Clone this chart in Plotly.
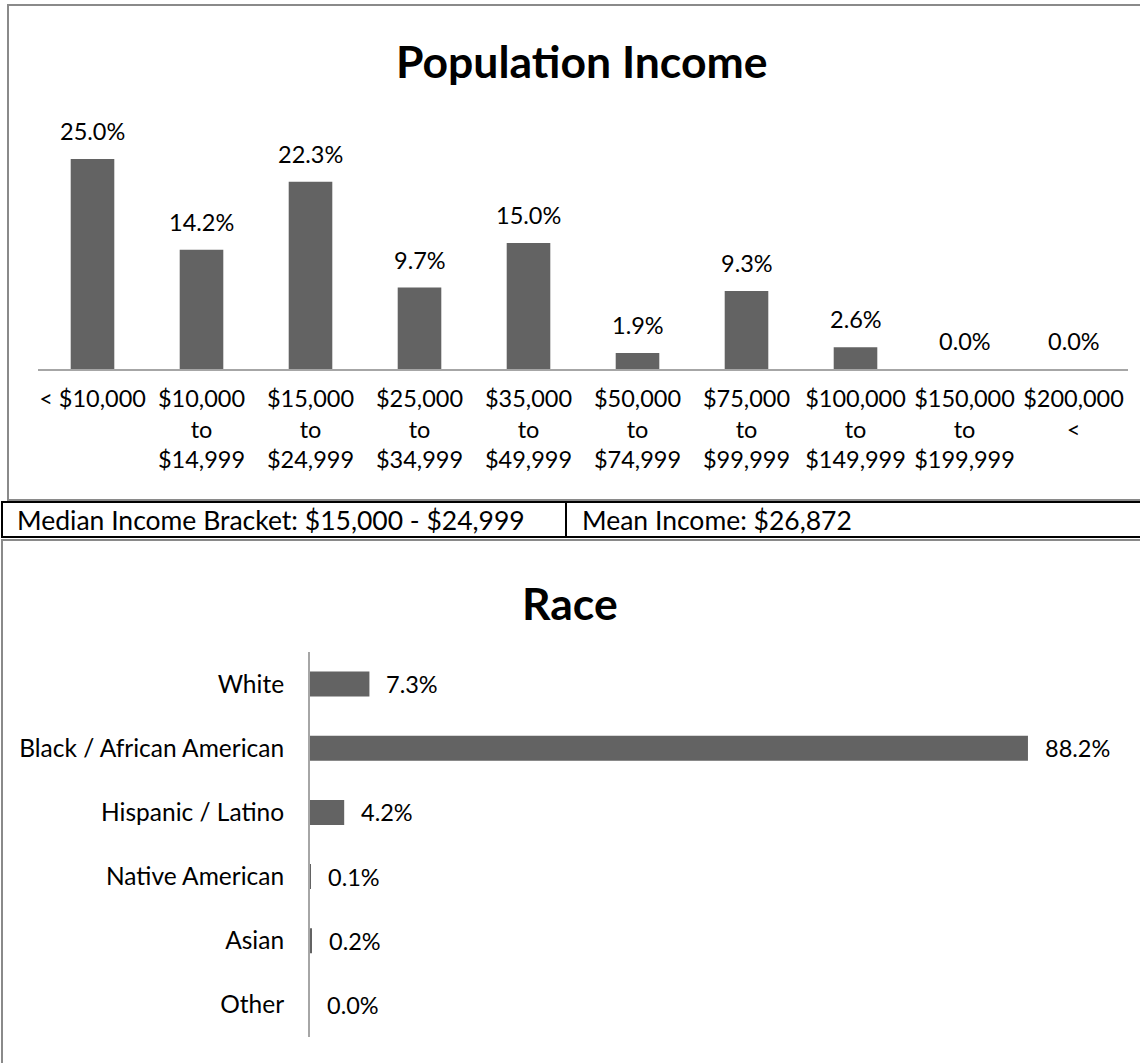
import plotly.graph_objects as go

# ---- data -------------------------------------------------------------
income_brackets = [
    "< $10,000",
    "$10,000<br>to<br>$14,999",
    "$15,000<br>to<br>$24,999",
    "$25,000<br>to<br>$34,999",
    "$35,000<br>to<br>$49,999",
    "$50,000<br>to<br>$74,999",
    "$75,000<br>to<br>$99,999",
    "$100,000<br>to<br>$149,999",
    "$150,000<br>to<br>$199,999",
    "$200,000<br><",
]
income_pct = [25.0, 14.2, 22.3, 9.7, 15.0, 1.9, 9.3, 2.6, 0.0, 0.0]

race_groups = [
    "White",
    "Black / African American",
    "Hispanic / Latino",
    "Native American",
    "Asian",
    "Other",
]
race_pct = [7.3, 88.2, 4.2, 0.1, 0.2, 0.0]

median_text = "Median Income Bracket: $15,000 - $24,999"
mean_text = "Mean Income: $26,872"

# ---- page geometry (pixels) -------------------------------------------
W, H = 1140, 1063
FONT = "Lato, 'Open Sans', sans-serif"
BAR = "#636363"
AXIS = "#A6A6A6"
FRAME = "#8A8A8A"


def px(x):
    return x / W


def py(y):
    return 1 - y / H


fig = go.Figure()

# income histogram
fig.add_trace(go.Bar(
    x=income_brackets, y=income_pct, marker=dict(color=BAR, line=dict(width=0)),
    xaxis="x", yaxis="y", hoverinfo="skip", showlegend=False,
))
# race bars
fig.add_trace(go.Bar(
    y=race_groups, x=race_pct, orientation="h", width=0.39,
    marker=dict(color=BAR, line=dict(width=0)),
    xaxis="x2", yaxis="y2", hoverinfo="skip", showlegend=False,
))

annotations = []
for cat, v in zip(income_brackets, income_pct):
    annotations.append(dict(
        x=cat, y=v, xref="x", yref="y", text=f"{v:.1f}%", showarrow=False,
        xanchor="center", yanchor="bottom", yshift=12,
        font=dict(family=FONT, size=23.5, color="black"),
    ))
for cat, v in zip(race_groups, race_pct):
    annotations.append(dict(
        x=v, y=cat, xref="x2", yref="y2", text=f"{v:.1f}%", showarrow=False,
        xanchor="left", yanchor="middle", xshift=15,
        font=dict(family=FONT, size=23.5, color="black"),
    ))

# chart titles
annotations.append(dict(
    x=px(582), y=py(60), xref="paper", yref="paper", text="<b>Population Income</b>",
    showarrow=False, xanchor="center", yanchor="middle",
    font=dict(family=FONT, size=44.5, color="black"),
))
annotations.append(dict(
    x=px(570), y=py(602), xref="paper", yref="paper", text="<b>Race</b>",
    showarrow=False, xanchor="center", yanchor="middle",
    font=dict(family=FONT, size=44.5, color="black"),
))

# summary row text
annotations.append(dict(
    x=px(15), y=py(520), xref="paper", yref="paper", text=median_text,
    showarrow=False, xanchor="left", yanchor="middle",
    font=dict(family=FONT, size=26.5, color="black"),
))
annotations.append(dict(
    x=px(580), y=py(520), xref="paper", yref="paper", text=mean_text,
    showarrow=False, xanchor="left", yanchor="middle",
    font=dict(family=FONT, size=26.5, color="black"),
))

shapes = [
    # frame around income chart
    dict(type="rect", xref="paper", yref="paper", x0=px(8), x1=px(1160),
         y0=py(500), y1=py(5), line=dict(color=FRAME, width=2)),
    # frame around race chart
    dict(type="rect", xref="paper", yref="paper", x0=px(2), x1=px(1160),
         y0=py(1090), y1=py(540), line=dict(color=FRAME, width=2)),
    # summary row box and divider
    dict(type="rect", xref="paper", yref="paper", x0=px(2), x1=px(1160),
         y0=py(537), y1=py(502), line=dict(color="black", width=2)),
    dict(type="line", xref="paper", yref="paper", x0=px(566), x1=px(566),
         y0=py(537), y1=py(502), line=dict(color="black", width=2)),
]

fig.update_layout(
    width=W, height=H, margin=dict(l=0, r=0, t=0, b=0),
    paper_bgcolor="white", plot_bgcolor="white",
    font=dict(family=FONT, size=23.5, color="black"),
    bargap=0.6,
    xaxis=dict(
        domain=[px(38), px(1128)], anchor="y", type="category",
        showline=True, linecolor=AXIS, linewidth=2, showgrid=False,
        ticks="", zeroline=False, ticklabelstandoff=8,
        tickfont=dict(family=FONT, size=23.5, color="black"),
        fixedrange=True,
    ),
    yaxis=dict(
        domain=[py(369), py(117)], anchor="x", range=[0, 30],
        visible=False, fixedrange=True,
    ),
    xaxis2=dict(
        domain=[px(310), px(1124)], anchor="y2", range=[0, 100],
        visible=False, fixedrange=True,
    ),
    yaxis2=dict(
        domain=[py(1037), py(652)], anchor="x2", type="category",
        autorange="reversed", showline=True, linecolor=AXIS, linewidth=2,
        showgrid=False, ticks="", ticklabelstandoff=19,
        tickfont=dict(family=FONT, size=24.5, color="black"),
        fixedrange=True,
    ),
    annotations=annotations,
    shapes=shapes,
)

fig.write_html("out.html", config={"displayModeBar": False})
